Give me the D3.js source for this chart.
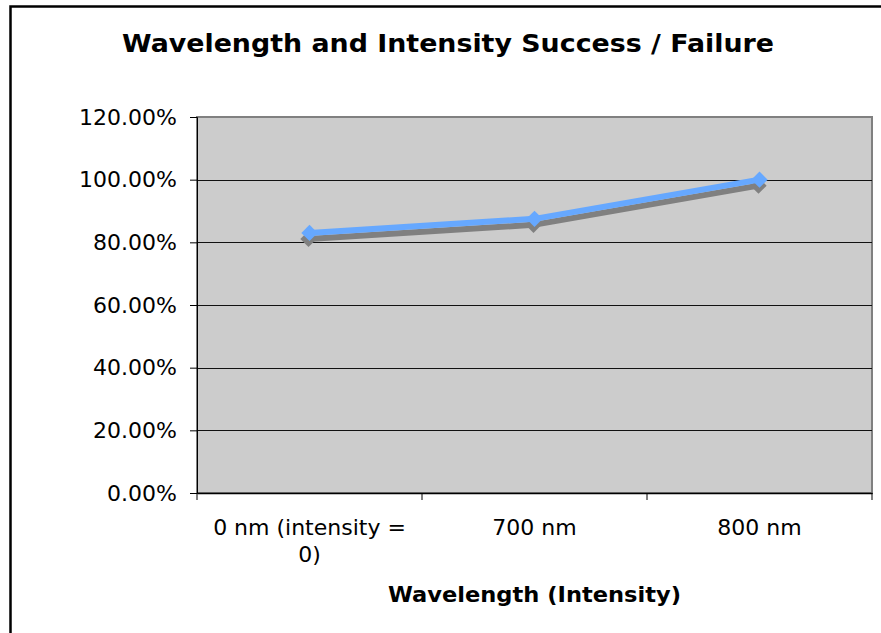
<!DOCTYPE html>
<meta charset="utf-8">
<style>
body{ margin:0; background:#fff; }
svg{ display:block; font-family:"DejaVu Sans", Verdana, sans-serif; }
</style>
<body>
<div id="chart"></div>
<script src="https://cdn.jsdelivr.net/npm/d3@7"></script>
<script>
// data
var categories = ['0 nm (intensity = 0)', '700 nm', '800 nm']
var catLines = [['0 nm (intensity =', '0)'], ['700 nm'], ['800 nm']]
var successRate = [0.83, 0.875, 1.0]
var yTicks = [0, 0.2, 0.4, 0.6, 0.8, 1.0, 1.2]

var W = 881, H = 633
var m = {left: 197, right: 9, top: 117, bottom: 140}

var svg = d3.select('#chart').append('svg')
    .attr('width', W).attr('height', H)

// outer chart frame (only top + left visible)
svg.append('path')
    .attr('d', 'M10.5,' + H + 'V6.5H' + W)
    .attr('fill', 'none').attr('stroke', '#000').attr('stroke-width', 2.5)

var x = d3.scaleBand().domain(categories).range([m.left, W - m.right])
var y = d3.scaleLinear().domain([0, 1.2]).range([H - m.bottom, m.top])

// plot area
svg.append('rect')
    .attr('x', x.range()[0]).attr('y', y(1.2))
    .attr('width', x.range()[1] - x.range()[0]).attr('height', y(0) - y(1.2))
    .attr('fill', '#cccccc').attr('stroke', '#808080').attr('stroke-width', 2)

// gridlines
svg.append('g').selectAll('line')
  .data(yTicks.slice(1, -1))
  .join('line')
    .attr('x1', x.range()[0]).attr('x2', x.range()[1])
    .attr('y1', function(d){ return Math.round(y(d)) + 0.5 })
    .attr('y2', function(d){ return Math.round(y(d)) + 0.5 })
    .attr('stroke', '#111').attr('stroke-width', 1)

// y axis
var yAxis = svg.append('g')
    .attr('transform', 'translate(' + m.left + ',0)')
    .call(d3.axisLeft(y).tickValues(yTicks).tickSize(7).tickPadding(13)
      .tickFormat(function(d){ return (d * 100).toFixed(2) + '%' }))
yAxis.select('.domain').attr('stroke', '#000')
yAxis.selectAll('.tick line').attr('stroke', '#000')
yAxis.selectAll('text')
    .attr('font-size', 22).attr('fill', '#000').attr('font-family', 'DejaVu Sans')

// x axis
var xAxis = svg.append('g')
    .attr('transform', 'translate(0,' + y(0) + ')')
    .call(d3.axisBottom(x).tickSize(0).tickFormat(''))
xAxis.select('.domain').attr('stroke', '#000').attr('stroke-width', 1.5)
xAxis.selectAll('.xt')
  .data(x.domain().map(function(d){ return x(d) }).concat([x.range()[1]]))
  .join('line')
    .attr('class', 'xt')
    .attr('x1', function(d){ return d }).attr('x2', function(d){ return d })
    .attr('y1', 0).attr('y2', 7).attr('stroke', '#000')

var labels = svg.append('g').selectAll('text')
  .data(categories)
  .join('text')
    .attr('text-anchor', 'middle')
    .attr('font-size', 22).attr('fill', '#000')
    .attr('x', function(d){ return x(d) + x.bandwidth() / 2 })
    .attr('y', y(0) + 42)
labels.selectAll('tspan')
  .data(function(d, i){ return catLines[i] })
  .join('tspan')
    .attr('x', function(){ return d3.select(this.parentNode).attr('x') })
    .attr('dy', function(d, i){ return i ? 27 : 0 })
    .text(function(d){ return d })

// titles
svg.append('text')
    .attr('x', 448).attr('y', 52)
    .attr('text-anchor', 'middle')
    .attr('font-size', 25).attr('font-weight', 'bold')
    .attr('textLength', 652).attr('lengthAdjust', 'spacingAndGlyphs')
    .text('Wavelength and Intensity Success / Failure')

svg.append('text')
    .attr('x', (x.range()[0] + x.range()[1]) / 2).attr('y', 602)
    .attr('text-anchor', 'middle')
    .attr('font-size', 21).attr('font-weight', 'bold')
    .attr('textLength', 293).attr('lengthAdjust', 'spacingAndGlyphs')
    .text('Wavelength (Intensity)')

// series: shadow first, then the blue line
var line = d3.line()
    .x(function(d, i){ return x(categories[i]) + x.bandwidth() / 2 })
    .y(function(d){ return y(d) })

function drawSeries(color, dx, dy){
  var g = svg.append('g').attr('transform', 'translate(' + dx + ',' + dy + ')')
  g.append('path')
      .datum(successRate)
      .attr('d', line)
      .attr('fill', 'none').attr('stroke', color).attr('stroke-width', 6)
      .attr('stroke-linejoin', 'round')
  g.selectAll('path.mk')
    .data(successRate)
    .join('path')
      .attr('class', 'mk')
      .attr('d', d3.symbol(d3.symbolDiamond2, 170))
      .attr('transform', function(d, i){
        return 'translate(' + (x(categories[i]) + x.bandwidth() / 2) + ',' + y(d) + ')' })
      .attr('fill', color)
}
drawSeries('#808080', -1, 6)
drawSeries('#66a8ff', 0, 0)
</script>
</body>
